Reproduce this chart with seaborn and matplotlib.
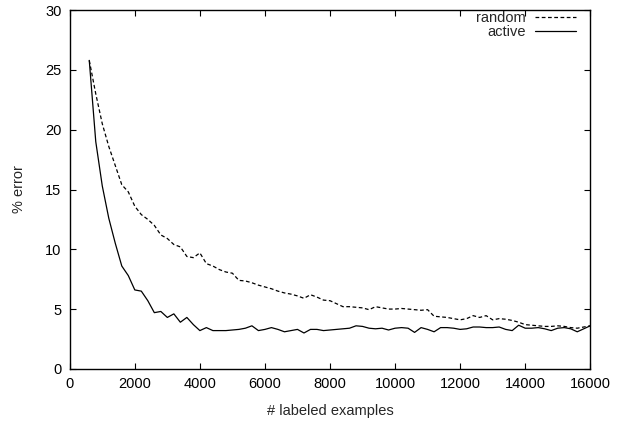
import numpy as np
import pandas as pd
import matplotlib
matplotlib.use("Agg")
import matplotlib.pyplot as plt
import seaborn as sns

# number of labeled examples (sampled every 200 from 600)
n_labeled = list(range(600, 16001, 200))

random_err = [25.8, 23.0, 20.5, 18.6, 17.0, 15.4, 14.8, 13.6, 12.9, 12.5,
              12.0, 11.2, 10.9, 10.4, 10.2, 9.4, 9.3, 9.7, 8.8, 8.6,
              8.3, 8.1, 8.0, 7.4, 7.35, 7.2, 7.0, 6.85, 6.7, 6.5,
              6.35, 6.25, 6.1, 5.9, 6.2, 6.0, 5.75, 5.7, 5.45, 5.2,
              5.2, 5.15, 5.1, 4.95, 5.2, 5.1, 5.0, 5.0, 5.05, 5.0,
              4.95, 4.9, 4.95, 4.4, 4.35, 4.3, 4.2, 4.1, 4.2, 4.45,
              4.3, 4.45, 4.1, 4.2, 4.15, 4.05, 3.9, 3.7, 3.65, 3.6,
              3.55, 3.55, 3.6, 3.55, 3.45, 3.4, 3.5, 3.6]

active_err = [25.8, 19.0, 15.3, 12.6, 10.5, 8.6, 7.8, 6.6, 6.5, 5.7,
              4.7, 4.8, 4.3, 4.6, 3.9, 4.3, 3.7, 3.2, 3.45, 3.2,
              3.2, 3.2, 3.25, 3.3, 3.4, 3.6, 3.2, 3.3, 3.45, 3.3,
              3.1, 3.2, 3.3, 3.0, 3.3, 3.3, 3.2, 3.25, 3.3, 3.35,
              3.4, 3.6, 3.55, 3.4, 3.35, 3.4, 3.25, 3.4, 3.45, 3.4,
              3.05, 3.45, 3.3, 3.1, 3.45, 3.45, 3.4, 3.3, 3.35, 3.5,
              3.5, 3.45, 3.45, 3.5, 3.3, 3.2, 3.65, 3.4, 3.4, 3.45,
              3.35, 3.2, 3.4, 3.45, 3.35, 3.1, 3.35, 3.6]

df = pd.concat([
    pd.DataFrame({"n": n_labeled, "err": random_err, "method": "random"}),
    pd.DataFrame({"n": n_labeled, "err": active_err, "method": "active"}),
])

sns.set_style("ticks")
plt.rcParams['font.family'] = ['Liberation Sans', 'DejaVu Sans']
fs = 10.5

fig = plt.figure(figsize=(6.34, 4.23), dpi=100)
ax = fig.add_axes([0.110, 0.128, 0.821, 0.848])

sns.lineplot(data=df, x="n", y="err", hue="method", style="method",
             palette={"random": "black", "active": "black"},
             dashes={"random": (3, 2), "active": ""},
             linewidth=0.9, ax=ax)

ax.set_xlim(0, 16000)
ax.set_ylim(0, 30)
ax.set_xticks(range(0, 16001, 2000))
ax.set_yticks(range(0, 31, 5))
ax.set_xlabel("# labeled examples", fontsize=fs, labelpad=9)
ax.set_ylabel("% error", fontsize=fs, labelpad=14)
ax.tick_params(direction="in", top=True, right=True, length=4, width=0.8,
               labelsize=fs, colors="black", pad=6)
for s in ax.spines.values():
    s.set_linewidth(1.0)
    s.set_color("black")

ax.legend(title=None, frameon=False, loc="upper right",
          bbox_to_anchor=(0.972, 0.997), markerfirst=False,
          handlelength=2.8, borderaxespad=0.0, borderpad=0.0,
          labelspacing=0.0, handletextpad=0.6, fontsize=fs)

fig.savefig("out.png", dpi=100)
